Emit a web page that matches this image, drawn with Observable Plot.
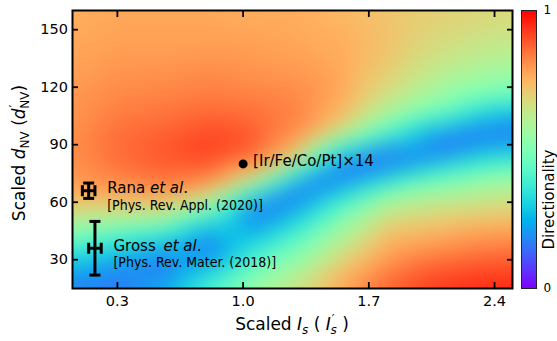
<!DOCTYPE html>
<html>
<head>
<meta charset="utf-8">
<script src="https://cdn.jsdelivr.net/npm/d3@7"></script>
<script src="https://cdn.jsdelivr.net/npm/@observablehq/plot@0.6"></script>
<style>
  html, body { margin: 0; padding: 0; background: #fff; }
  #chart { position: relative; width: 557px; height: 341px; font-family: "DejaVu Sans", sans-serif; }
  #chart svg { position: absolute; top: 0; overflow: visible; }
</style>
</head>
<body>
<div id="chart"></div>
<script>
// Sampling grid of the directionality map
const xGrid = [0.05, 0.3, 0.55, 0.8, 1.05, 1.3, 1.55, 1.8, 2.05, 2.3, 2.5];
const yGrid = [15, 25, 35, 45, 55, 65, 75, 85, 95, 105, 115, 130, 145, 160];
// one row per xGrid value, entries follow yGrid
const directionality = [
  [0.16, 0.24, 0.38, 0.53, 0.67, 0.77, 0.80, 0.81, 0.81, 0.80, 0.80, 0.78, 0.77, 0.76],
  [0.15, 0.18, 0.30, 0.47, 0.65, 0.78, 0.84, 0.86, 0.86, 0.84, 0.82, 0.80, 0.78, 0.77],
  [0.24, 0.14, 0.22, 0.42, 0.64, 0.80, 0.87, 0.89, 0.88, 0.85, 0.83, 0.80, 0.78, 0.77],
  [0.42, 0.28, 0.14, 0.23, 0.48, 0.71, 0.86, 0.92, 0.91, 0.87, 0.84, 0.81, 0.78, 0.77],
  [0.56, 0.46, 0.36, 0.23, 0.14, 0.42, 0.72, 0.88, 0.89, 0.86, 0.83, 0.80, 0.78, 0.76],
  [0.66, 0.58, 0.49, 0.39, 0.26, 0.14, 0.38, 0.72, 0.81, 0.83, 0.82, 0.79, 0.77, 0.76],
  [0.78, 0.72, 0.65, 0.57, 0.47, 0.31, 0.14, 0.30, 0.62, 0.74, 0.77, 0.77, 0.76, 0.74],
  [0.88, 0.82, 0.77, 0.72, 0.64, 0.50, 0.26, 0.13, 0.40, 0.58, 0.66, 0.71, 0.73, 0.72],
  [0.93, 0.88, 0.81, 0.74, 0.67, 0.57, 0.40, 0.16, 0.21, 0.45, 0.57, 0.64, 0.68, 0.70],
  [0.95, 0.90, 0.84, 0.77, 0.69, 0.60, 0.48, 0.28, 0.14, 0.31, 0.49, 0.60, 0.65, 0.69],
  [0.96, 0.90, 0.85, 0.78, 0.70, 0.62, 0.52, 0.33, 0.14, 0.24, 0.46, 0.58, 0.64, 0.68]
];

const xTicks = [0.3, 1.0, 1.7, 2.4];
const yTicks = [30, 60, 90, 120, 150];
const barTicks = [0, 1];

// This work
const sampleX = [1.0];
const sampleY = [80];
const sampleLabel = ["[Ir/Fe/Co/Pt]×14"];

// Published measurements with error bars
const refAuthor = ["Rana", "Gross"];
const refJournal = ["[Phys. Rev. Appl. (2020)]", "[Phys. Rev. Mater. (2018)]"];
const refX = [0.14, 0.175];
const refY = [66, 36];
const refXErr = [0.035, 0.035];
const refYErr = [4, 14];

// matplotlib "rainbow" colormap
function rainbow(t) {
  const r = Math.min(1, Math.abs(2 * t - 0.5));
  const g = Math.max(0, Math.sin(Math.PI * t));
  const b = Math.max(0, Math.cos(Math.PI * t / 2));
  return `rgb(${Math.round(255 * r)},${Math.round(255 * g)},${Math.round(255 * b)})`;
}
const colorScale = {type: "linear", domain: [0, 1], interpolate: rainbow};

const field = xGrid.flatMap((x, i) => yGrid.map((y, j) => ({x, y, v: directionality[i][j]})));
const samples = sampleX.map((x, i) => ({x, y: sampleY[i], label: sampleLabel[i]}));
const refs = refAuthor.map((a, i) => ({author: a, journal: refJournal[i], x: refX[i], y: refY[i], xerr: refXErr[i], yerr: refYErr[i]}));
const hCaps = refs.flatMap(d => [{x: d.x, y: d.y - d.yerr}, {x: d.x, y: d.y + d.yerr}]);
const vCaps = refs.flatMap(d => [{x: d.x - d.xerr, y: d.y}, {x: d.x + d.xerr, y: d.y}]);

// line-shaped symbols for error bar caps
const hLine = {draw(ctx, size) { const r = Math.sqrt(size / Math.PI); ctx.moveTo(-r, 0); ctx.lineTo(r, 0); }};
const vLine = {draw(ctx, size) { const r = Math.sqrt(size / Math.PI); ctx.moveTo(0, -r); ctx.lineTo(0, r); }};

const font = "DejaVu Sans";

const main = Plot.plot({
  width: 515,
  height: 341,
  marginLeft: 72,
  marginRight: 3,
  marginTop: 10,
  marginBottom: 53,
  x: {domain: [0.05, 2.5]},
  y: {domain: [15, 160]},
  color: colorScale,
  style: {fontFamily: font, fontSize: "14.5px", color: "#000", background: "transparent"},
  marks: [
    Plot.raster(field, {x: "x", y: "y", fill: "v", interpolate: "barycentric", blur: 10}),
    Plot.axisX(xTicks, {anchor: "bottom", tickSize: -6, tickPadding: 13, tickFormat: d3.format(".1f"), strokeWidth: 1.8, label: null, fontSize: 14.5}),
    Plot.axisX(xTicks, {anchor: "top", tickSize: -6, tickFormat: () => "", strokeWidth: 1.8, label: null}),
    Plot.axisY(yTicks, {anchor: "left", tickSize: -6, tickPadding: 10.5, strokeWidth: 1.8, label: null, fontSize: 14.5}),
    Plot.axisY(yTicks, {anchor: "right", tickSize: -6, tickFormat: () => "", strokeWidth: 1.8, label: null}),
    Plot.frame({stroke: "#000", strokeWidth: 2}),
    Plot.link(refs, {x1: d => d.x - d.xerr, x2: d => d.x + d.xerr, y1: "y", y2: "y", stroke: "#000", strokeWidth: 3}),
    Plot.link(refs, {x1: "x", x2: "x", y1: d => d.y - d.yerr, y2: d => d.y + d.yerr, stroke: "#000", strokeWidth: 3}),
    Plot.dot(hCaps, {x: "x", y: "y", r: 5.5, symbol: hLine, fill: "none", stroke: "#000", strokeWidth: 3}),
    Plot.dot(vCaps, {x: "x", y: "y", r: 5.5, symbol: vLine, fill: "none", stroke: "#000", strokeWidth: 3}),
    Plot.dot(samples, {x: "x", y: "y", r: 4.5, fill: "#000"}),
    Plot.text(samples, {x: "x", y: "y", text: "label", dx: 10, dy: 2.6, textAnchor: "start", lineAnchor: "bottom", fontSize: 15, fill: "#000"})
  ]
});

// Reference annotations with italic "et al"
const svg = d3.select(main);
const sx = main.scale("x"), sy = main.scale("y");
refs.forEach((d, i) => {
  const px = sx.apply(d.x), py = sy.apply(d.y);
  const t = svg.append("text")
    .attr("x", px + 19).attr("y", py + 2.8).attr("text-anchor", "start")
    .attr("font-size", 15).attr("fill", "#000");
  t.append("tspan").text(d.author + " ");
  t.append("tspan").attr("font-style", "italic").attr("dx", i === 1 ? 3 : 0).text("et al");
  t.append("tspan").text(".");
  svg.append("text")
    .attr("x", px + 19).attr("y", py + 19.5).attr("text-anchor", "start")
    .attr("font-size", 14).attr("font-stretch", "condensed").attr("fill", "#000")
    .text(d.journal);
});

// Axis titles with italic symbols, subscripts and primes
const xl = svg.append("text")
  .attr("x", 292).attr("y", 330).attr("text-anchor", "middle")
  .attr("font-size", 17).attr("fill", "#000");
xl.append("tspan").text("Scaled ");
xl.append("tspan").attr("font-style", "italic").text("I");
xl.append("tspan").attr("font-style", "italic").attr("font-size", 12).attr("dy", 4).text("s");
xl.append("tspan").attr("dy", -4).text(" ( ");
xl.append("tspan").attr("font-style", "italic").text("I");
xl.append("tspan").attr("font-size", 12).attr("dx", 1).attr("dy", -7).text("′");
xl.append("tspan").attr("font-style", "italic").attr("font-size", 12).attr("dx", -4).attr("dy", 11).text("s");
xl.append("tspan").attr("dy", -4).text(" )");

const yl = svg.append("text")
  .attr("transform", "translate(25,153) rotate(-90)").attr("text-anchor", "middle")
  .attr("font-size", 17).attr("fill", "#000");
yl.append("tspan").text("Scaled ");
yl.append("tspan").attr("font-style", "italic").text("d");
yl.append("tspan").attr("font-size", 12).attr("dy", 4).text("NV");
yl.append("tspan").attr("dy", -4).text(" (");
yl.append("tspan").attr("font-style", "italic").text("d");
yl.append("tspan").attr("font-size", 12).attr("dx", 1).attr("dy", -7).text("′");
yl.append("tspan").attr("font-size", 12).attr("dx", -4).attr("dy", 11).text("NV");
yl.append("tspan").attr("dy", -4).text(")");

// Colour bar
const bar = Plot.plot({
  width: 42,
  height: 341,
  marginLeft: 6,
  marginRight: 21,
  marginTop: 10,
  marginBottom: 53,
  x: {domain: [0, 1], axis: null},
  y: {domain: [0, 1], axis: null},
  color: colorScale,
  style: {fontFamily: font, color: "#000", background: "transparent"},
  marks: [
    Plot.raster({fill: (x, y) => y, x1: 0, x2: 1, y1: 0, y2: 1}),
    Plot.frame({stroke: "#222", strokeWidth: 1}),
    Plot.axisY(barTicks, {anchor: "right", tickSize: 0, tickPadding: 7, tickFormat: d3.format("d"), label: null, fontSize: 12}),
    Plot.text(["Directionality"], {frameAnchor: "right", dx: 17.5, rotate: -90, lineAnchor: "bottom", fontSize: 15, fill: "#000"})
  ]
});
bar.style.left = "515px";

const chart = document.getElementById("chart");
chart.append(main, bar);
</script>
</body>
</html>
